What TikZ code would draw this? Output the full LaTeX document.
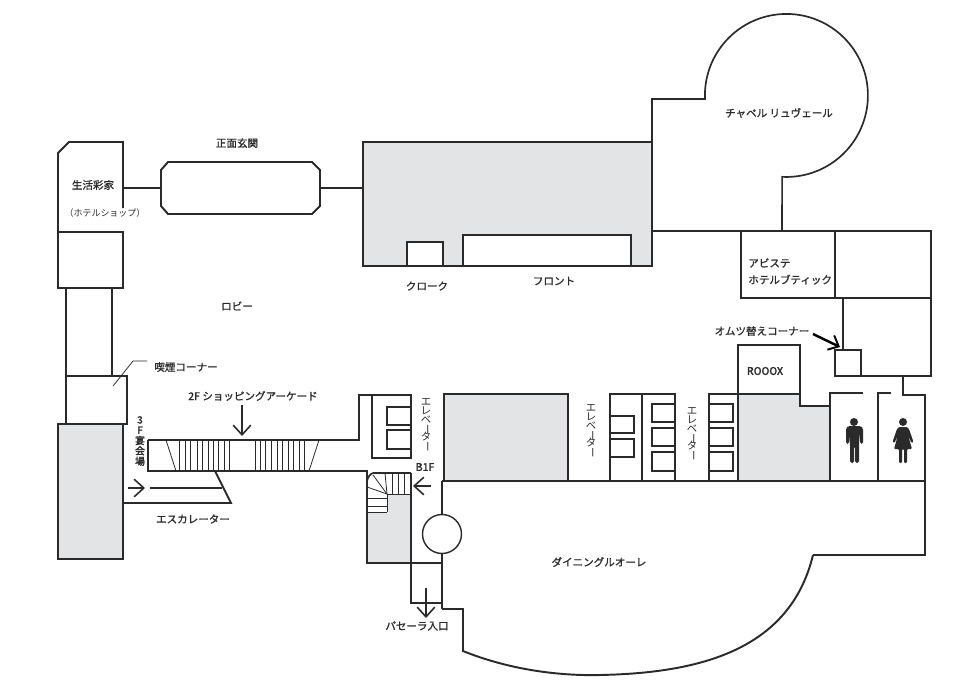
\documentclass[tikz,border=0pt]{standalone}
\usepackage{fontspec}
\usepackage{graphicx}
\setmainfont{Noto Sans CJK JP}[FakeBold=1.0]
\newfontfamily\thinfont{Noto Sans CJK JP}
\newfontfamily\heavyfont{Noto Sans CJK JP}[FakeBold=2.4]
\usetikzlibrary{arrows.meta}
\definecolor{wallgrey}{HTML}{E2E4E5}
\definecolor{wallink}{HTML}{2B2A2B}
\newcommand{\tatebar}{\smash{\rotatebox[origin=c]{-90}{ー}}}
\tikzset{
   wall/.style={draw=wallink, line width=1.1pt, line join=miter},
   thinwall/.style={draw=wallink, line width=0.95pt},
   tread/.style={draw=wallink, line width=0.45pt},
   floorgrey/.style={fill=wallgrey, draw=wallink, line width=1.1pt},
   pointer/.style={draw=wallink, line width=0.9pt, -{Straight Barb[length=5.5pt,width=10pt,line width=0.9pt]}},
   place/.style={inner sep=0pt, font=\fontsize{6}{7}\selectfont, text=wallink},
   heavyplace/.style={inner sep=0pt, align=center, text=wallink, font=\heavyfont\fontsize{6}{6}\selectfont},
   elevlabel/.style={inner sep=0pt, align=center, text=wallink, font=\thinfont\fontsize{5.9}{4.95}\selectfont},
   person/.style={fill=wallink, draw=none}
}
\begin{document}
\begin{tikzpicture}[x=0.02cm, y=-0.02cm]
   \useasboundingbox (0, 0) rectangle (960, 690);
   \fill [white] (0, 0) rectangle (960, 690);

   \path [floorgrey] (363, 142) rectangle (652, 266);
   \path [floorgrey] (58, 424) rectangle (123, 559);
   \path [floorgrey] (444, 394) rectangle (568, 481);
   \path [floorgrey] (738, 394) -- (800, 394) -- (800, 406) -- (830, 406) -- (830, 481) -- (738, 481) -- cycle;
   \fill [wallgrey] (411, 494) -- (387, 494) -- (387, 512) -- (367, 512) -- (367, 563) -- (411, 563) -- cycle;

   \draw [wall] (123, 208) -- (123, 142) -- (69, 142) -- (58, 153) -- (58, 232);
   \draw [wall] (58, 232) rectangle (123, 288);
   \draw [wall] (66, 288) -- (66, 376);
   \draw [wall] (112, 288) -- (112, 376);
   \draw [wall] (66, 376) rectangle (127, 424);
   \draw [tread] (113, 386) -- (133, 361) -- (147, 361);

   \draw [wall] (168, 162) -- (312, 162) -- (320, 170) -- (320, 206) -- (312, 214) -- (168, 214) -- (161, 206) -- (161, 170) -- cycle;
   \draw [wall] (123, 188) -- (161, 188);
   \draw [wall] (320, 188) -- (363, 188);

   \draw [wall, fill=white] (407, 242) rectangle (443, 266);
   \draw [wall, fill=white] (463, 235) rectangle (631, 266);

   \draw [thinwall] (652, 142) -- (652, 99) -- (705, 99) arc (177.5:453:81.5) -- (782, 231);
   \draw [wall] (652, 231) -- (741, 231);
   \draw [wall] (741, 231) rectangle (835, 298);
   \draw [wall] (835, 231) rectangle (931, 298);
   \draw [wall] (843, 298) -- (843, 350);
   \draw [wall] (931, 298) -- (931, 376) -- (861, 376);
   \draw [wall] (835, 350) rectangle (861, 376);
   \draw [wall] (903, 376) -- (903, 395) -- (925, 395) -- (925, 555) -- (813, 555);
   \draw [wall] (813, 555) .. controls (790, 650) and (700, 673) .. (600, 675) .. controls (560, 676) and (510, 670) .. (463, 651) -- (463, 609) -- (442, 609);

   \draw [wall] (738, 394) -- (738, 345) -- (800, 345) -- (800, 394);
   \draw [wall] (863, 393) -- (830, 393) -- (830, 406);
   \draw [wall] (891, 393) -- (878, 393) -- (878, 481);
   \draw [wall] (442, 481) -- (925, 481);

   \draw [wall] (610, 481) -- (610, 394) -- (675, 394) -- (675, 481);
   \draw [wall] (642, 394) -- (642, 481);
   \draw [wall] (610, 416) rectangle (634, 433);
   \draw [wall] (610, 439) rectangle (634, 457);
   \foreach \top/\bot in {404/422, 428/446, 452/471} {
      \draw [wall] (675, \top) -- (652, \top) -- (652, \bot) -- (675, \bot);
      \draw [wall] (709, \top) -- (733, \top) -- (733, \bot) -- (709, \bot);
   }
   \draw [wall] (709, 481) -- (709, 394) -- (738, 394);

   \draw [wall] (148, 440) -- (359, 440) -- (359, 395) -- (411, 395) -- (411, 458) -- (372, 458) -- (372, 395);
   \draw [wall] (411, 407) -- (387, 407) -- (387, 425) -- (411, 425);
   \draw [wall] (411, 430) -- (387, 430) -- (387, 449) -- (411, 449);
   \draw [wall] (148, 440) -- (148, 471) -- (367, 471) -- (367, 563) -- (442, 563);
   \draw [wall] (411, 473) -- (411, 603) -- (442, 603);
   \draw [wall] (442, 481) -- (442, 515);
   \draw [wall] (442, 553) -- (442, 609);
   \node (roundel) at (442, 534) [circle, draw=wallink, line width=0.8pt, fill=white, minimum size=0.78cm, inner sep=0pt] {};

   \draw [tread] (166, 440) -- (176, 471);
   \draw [tread] (319, 440) -- (309, 471);
   \foreach \x in {179, 185, 190, 197, 202, 208, 213, 218, 224, 229, 255, 260, 265, 271, 277, 282, 288, 293, 299, 304} {
      \draw [tread] (\x, 440) -- (\x, 471);
   }

   \draw [wall] (215, 471) -- (231, 503) -- (123, 503);
   \draw [wall] (150, 488) -- (222, 488);
   \draw [pointer] (128, 488) -- (145, 488);

   \draw [wall] (373, 473) -- (411, 473);
   \draw [thinwall] (367, 481) .. controls (368, 477) and (370, 474) .. (373, 473);
   \foreach \x in {392, 398, 404} {
      \draw [tread] (\x, 473) -- (\x, 494);
   }
   \draw [tread] (387, 494) -- (411, 494);
   \draw [tread] (387, 494) -- (385, 473);
   \draw [tread] (387, 494) -- (373, 475);
   \draw [tread] (387, 494) -- (367, 487);
   \draw [tread] (387, 494) -- (387, 512);
   \foreach \y in {498, 506, 512} {
      \draw [tread] (367, \y) -- (387, \y);
   }

   \draw [pointer] (242, 405) -- (242, 436);
   \draw [pointer] (431, 486) -- (413, 486);
   \draw [pointer] (426, 588) -- (426, 618);
   \draw [draw=black, line width=1.4pt, -{Straight Barb[length=5pt,width=9pt,line width=1.1pt]}] (813, 334) -- (840, 347);

   \fill [person] (854, 422) circle (4);
   \path [person, rounded corners=1pt] (848, 426) -- (861, 426) -- (863, 428) -- (863, 444) -- (860, 444) -- (860, 432) -- (859, 444) -- (859, 463) -- (855, 463) -- (855, 446) -- (854, 446) -- (854, 463) -- (850, 463) -- (850, 444) -- (849, 432) -- (849, 444) -- (846, 444) -- (846, 428) -- cycle;
   \fill [person] (903, 422) circle (4);
   \path [person, rounded corners=0.6pt] (899, 427) -- (907, 427) -- (909, 429) -- (913.5, 442) -- (911.5, 443) -- (908, 435) -- (912, 449) -- (907, 449) -- (907, 463) -- (904, 463) -- (904, 449) -- (902, 449) -- (902, 463) -- (899, 463) -- (899, 449) -- (894, 449) -- (898, 435) -- (894.5, 443) -- (892.5, 442) -- (897, 429) -- cycle;

   \node (entrance) at (237, 143) [place] {正面玄関};
   \node (shop) at (93, 185) [place] {生活彩家};
   \node (shopnote) at (105, 213) [place, font=\thinfont\fontsize{5.1}{6}\selectfont] {（ホテルショップ）};
   \node (lobby) at (237, 306) [place] {ロビー};
   \node (smoking) at (186, 367) [place] {喫煙コーナー};
   \node (arcade) at (253, 396) [place] {2F ショッピングアーケード};
   \node (hall) at (140, 441) [heavyplace, font=\heavyfont\fontsize{5.6}{5.9}\selectfont] {3\\F\\宴\\会\\場};
   \node (escalator) at (193, 519) [place] {エスカレーター};
   \node (cloak) at (427, 286) [place] {クローク};
   \node (front) at (554, 281) [place] {フロント};
   \node (chapel) at (779, 113) [place] {チャペル リュヴェール};
   \node (boutique) at (748, 271.5) [place, anchor=west, align=left, font=\fontsize{6}{9.5}\selectfont] {アビステ\\ホテルブティック};
   \node (diaper) at (762, 331) [place] {オムツ替えコーナー};
   \node (rooox) at (765, 371) [heavyplace] {ROOOX};
   \node (dining) at (599, 562) [place] {ダイニングルオーレ};
   \node (bone) at (425, 467) [heavyplace] {B1F};
   \node (pasela) at (417, 626) [place] {パセーラ入口};
   \node (elevA) at (426, 424) [elevlabel] {エ\\レ\\ベ\\\tatebar\\タ\\\tatebar};
   \node (elevB) at (591, 430) [elevlabel] {エ\\レ\\ベ\\\tatebar\\タ\\\tatebar};
   \node (elevC) at (692, 433) [elevlabel] {エ\\レ\\ベ\\\tatebar\\タ\\\tatebar};
\end{tikzpicture}
\end{document}
